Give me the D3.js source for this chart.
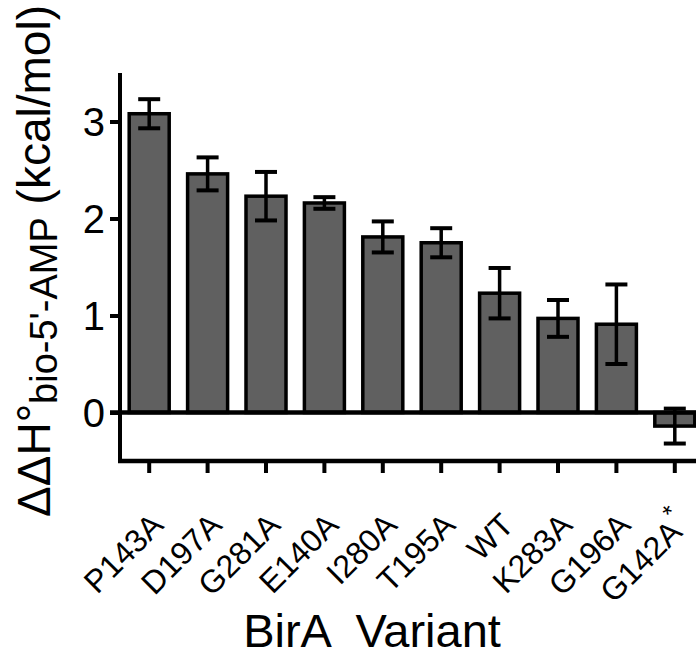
<!DOCTYPE html>
<html>
<head>
<meta charset="utf-8">
<script src="https://cdn.jsdelivr.net/npm/d3@7"></script>
<style>
  body { margin: 0; background: #fff; }
  svg { display: block; font-family: "Liberation Sans", Arial, sans-serif; }
</style>
</head>
<body>
<svg width="696" height="657"></svg>
<script>
// data
var variants = ["P143A", "D197A", "G281A", "E140A", "I280A", "T195A", "WT", "K283A", "G196A", "G142A*"];
var ddH = [3.08, 2.46, 2.23, 2.16, 1.81, 1.75, 1.23, 0.97, 0.91, -0.14];
var errs = [0.15, 0.17, 0.25, 0.06, 0.16, 0.15, 0.26, 0.19, 0.41, 0.18];
var yTicks = [0, 1, 2, 3];

var svg = d3.select("svg");

var x = d3.scaleBand()
  .domain(variants)
  .range([120, 704])
  .paddingInner(0.315)
  .paddingOuter(0.1575);

var y = d3.scaleLinear()
  .domain([-0.5, 3.5])
  .range([461, 73]);

var rows = variants.map(function(v, i) {
  return { name: v, val: ddH[i], err: errs[i] };
});

// bars
svg.append("g")
  .selectAll("rect")
  .data(rows).enter()
  .append("rect")
  .attr("x", function(d) { return x(d.name); })
  .attr("width", x.bandwidth())
  .attr("y", function(d) { return y(Math.max(0, d.val)); })
  .attr("height", function(d) { return Math.abs(y(d.val) - y(0)); })
  .attr("fill", "#606060")
  .attr("stroke", "#000")
  .attr("stroke-width", 3.5);

// error bars
var eb = svg.append("g")
  .attr("stroke", "#000")
  .selectAll("g")
  .data(rows).enter()
  .append("g")
  .attr("transform", function(d) { return "translate(" + (x(d.name) + x.bandwidth() / 2) + ",0)"; });

eb.append("line")
  .attr("y1", function(d) { return y(d.val + d.err); })
  .attr("y2", function(d) { return y(d.val - d.err); })
  .attr("stroke-width", 3.5);

eb.selectAll(".cap")
  .data(function(d) { return [d.val + d.err, d.val - d.err]; })
  .enter().append("line")
  .attr("class", "cap")
  .attr("x1", -11).attr("x2", 11)
  .attr("y1", function(v) { return y(v); })
  .attr("y2", function(v) { return y(v); })
  .attr("stroke-width", 4);

// y axis
var yAxis = d3.axisLeft(y)
  .tickValues(yTicks)
  .tickSize(10)
  .tickPadding(5)
  .tickFormat(d3.format("d"));

var gy = svg.append("g")
  .attr("transform", "translate(120,0)")
  .call(yAxis)
  .attr("font-size", null)
  .attr("font-family", null);
gy.select(".domain").remove();
gy.append("line")
  .attr("y1", y(3.5)).attr("y2", y(-0.5) + 2)
  .attr("stroke", "#000").attr("stroke-width", 4);
gy.selectAll(".tick line").attr("stroke", "#000").attr("stroke-width", 4);
gy.selectAll(".tick text")
  .style("font-size", "40px")
  .attr("dy", "0.36em")
  .attr("fill", "#000");

// zero line
svg.append("line")
  .attr("x1", 110).attr("x2", 696)
  .attr("y1", y(0)).attr("y2", y(0))
  .attr("stroke", "#000").attr("stroke-width", 4.5);

// x axis
var xAxis = d3.axisBottom(x).tickSize(12).tickFormat("");
var gx = svg.append("g")
  .attr("transform", "translate(0," + y(-0.5) + ")")
  .call(xAxis);
gx.select(".domain").remove();
gx.append("line")
  .attr("x1", 118).attr("x2", 696)
  .attr("stroke", "#000").attr("stroke-width", 4.5);
gx.selectAll(".tick line").attr("stroke", "#000").attr("stroke-width", 4);

// rotated category labels
var lab = svg.append("g")
  .selectAll("text")
  .data(variants).enter()
  .append("text")
  .attr("text-anchor", "end")
  .style("font-size", "32px")
  .attr("transform", function(d) {
    return "translate(" + (x(d) + x.bandwidth() / 2 + 16) + "," + 527 + ") rotate(-45)";
  });
lab.append("tspan").text(function(d) { return d.replace("*", ""); });
lab.filter(function(d) { return d.indexOf("*") >= 0; })
  .append("tspan")
  .style("font-size", "25px")
  .attr("dy", -16)
  .text("*");

// axis titles
svg.append("text")
  .attr("x", 372)
  .attr("y", 647)
  .attr("text-anchor", "middle")
  .style("font-size", "47px")
  .style("white-space", "pre")
  .text("BirA  Variant");

var yt = svg.append("text")
  .attr("transform", "translate(50,517) rotate(-90)")
  .style("font-size", "46px");
yt.append("tspan").text("ΔΔH°");
yt.append("tspan").style("font-size", "38px").attr("dy", 7).text("bio-5'-AMP");
yt.append("tspan").attr("dy", -7).text(" (kcal/mol)");
</script>
</body>
</html>
